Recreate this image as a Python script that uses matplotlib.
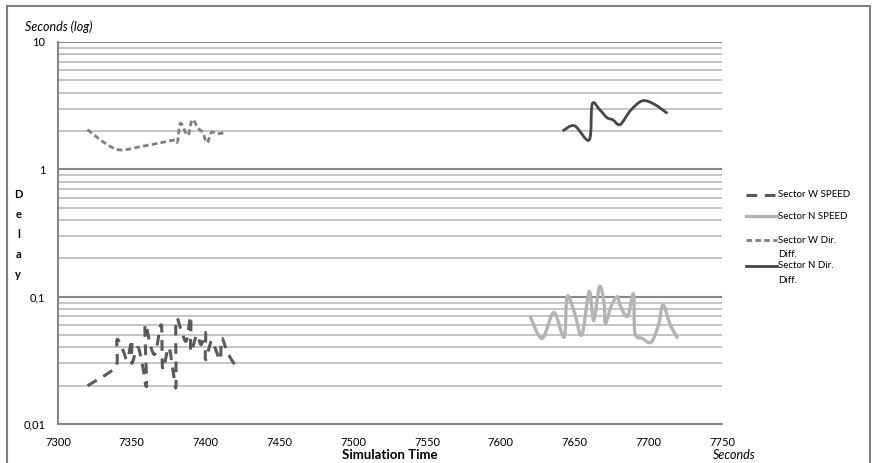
import matplotlib
matplotlib.use("Agg")
import numpy as np
import matplotlib.pyplot as plt
from matplotlib.patches import Rectangle, PathPatch
from matplotlib.path import Path
from matplotlib.lines import Line2D
from matplotlib.ticker import FixedLocator, NullFormatter

plt.rcParams['font.family'] = ['Lato', 'DejaVu Sans']

# data (time in seconds, delay in seconds)
w_speed_t = [7320, 7336, 7340, 7340, 7344, 7347, 7350, 7350, 7354, 7357, 7360, 7359,
             7363, 7366, 7370, 7371, 7375, 7378, 7380, 7380, 7384, 7387, 7390, 7390,
             7394, 7397, 7400, 7400, 7404, 7407, 7410, 7411, 7415, 7420]
w_speed_v = [0.020, 0.026, 0.030, 0.046, 0.038, 0.032, 0.046, 0.030, 0.040, 0.030, 0.020, 0.060,
             0.040, 0.036, 0.060, 0.027, 0.040, 0.026, 0.020, 0.065, 0.052, 0.045, 0.070, 0.037,
             0.050, 0.042, 0.052, 0.032, 0.045, 0.038, 0.032, 0.047, 0.036, 0.029]

n_speed_t = [7620, 7628, 7636, 7643, 7645, 7650, 7655, 7660, 7663, 7667, 7670, 7671,
             7675, 7679, 7681, 7686, 7690, 7691, 7696, 7702, 7707, 7710, 7715, 7720]
n_speed_v = [0.070, 0.047, 0.075, 0.048, 0.100, 0.075, 0.050, 0.110, 0.065, 0.120, 0.090, 0.062,
             0.085, 0.100, 0.085, 0.070, 0.105, 0.052, 0.047, 0.044, 0.060, 0.086, 0.060, 0.047]

w_dir_t = [7320, 7332, 7342, 7355, 7370, 7379, 7381, 7383, 7388, 7391, 7395, 7398, 7401, 7404, 7408, 7413]
w_dir_v = [2.05, 1.60, 1.42, 1.50, 1.62, 1.70, 1.65, 2.30, 1.85, 2.45, 2.10, 1.95, 1.62, 1.95, 1.90, 1.95]

n_dir_t = [7642, 7650, 7660, 7662, 7667, 7672, 7676, 7681, 7688, 7696, 7704, 7713]
n_dir_v = [2.00, 2.20, 1.70, 3.25, 2.95, 2.55, 2.45, 2.25, 2.90, 3.45, 3.25, 2.75]

x_ticks = [7300, 7350, 7400, 7450, 7500, 7550, 7600, 7650, 7700, 7750]
y_ticks = [0.01, 0.1, 1, 10]
y_tick_labels = ['0,01', '0,1', '1', '10']


def smooth_path(t, v):
    # spreadsheet-style smoothed line: bezier through the points (log y)
    x = np.asarray(t, float)
    y = np.log10(np.asarray(v, float))
    px = np.concatenate([[x[0]], x, [x[-1]]])
    py = np.concatenate([[y[0]], y, [y[-1]]])
    verts = [(x[0], v[0])]
    codes = [Path.MOVETO]
    for i in range(1, len(px) - 2):
        c1x = px[i] + (px[i + 1] - px[i - 1]) / 6
        c1y = py[i] + (py[i + 1] - py[i - 1]) / 6
        c2x = px[i + 1] - (px[i + 2] - px[i]) / 6
        c2y = py[i + 1] - (py[i + 2] - py[i]) / 6
        verts += [(c1x, 10 ** c1y), (c2x, 10 ** c2y), (px[i + 1], 10 ** py[i + 1])]
        codes += [Path.CURVE4] * 3
    return Path(verts, codes)


fig = plt.figure(figsize=(8.72, 4.63), dpi=100)
fig.patches.append(Rectangle((0.008, -0.1), 0.99, 1.088, transform=fig.transFigure,
                             fill=False, edgecolor='#808080', linewidth=1.5))

ax = fig.add_axes([0.0665, 0.0842, 0.7615, 0.8251])
ax.set_yscale('log')
ax.set_xlim(7300, 7750)
ax.set_ylim(0.01, 10)

# gridlines like the spreadsheet: major darker, minor lighter
minor = [m * 10.0 ** e for e in (-2, -1, 0) for m in range(2, 10)]
for v in minor:
    ax.axhline(v, color='#c0c0c0', linewidth=1.3, zorder=0)
for v in [0.1, 1, 10]:
    ax.axhline(v, color='#888888', linewidth=1.5, zorder=0)

series = [
    (w_speed_t, w_speed_v, '#5a5a5a', 2.2, (0, (3.5, 2.5)), 'Sector W SPEED'),
    (n_speed_t, n_speed_v, '#b4b4b4', 2.4, 'solid', 'Sector N SPEED'),
    (w_dir_t, w_dir_v, '#7f7f7f', 2.0, (0, (2, 1.2)), 'Sector W Dir.'),
    (n_dir_t, n_dir_v, '#474747', 2.0, 'solid', 'Sector N Dir.'),
]
for t, v, c, lw, ls, lab in series:
    ax.add_patch(PathPatch(smooth_path(t, v), fill=False, edgecolor=c, linewidth=lw,
                           linestyle=ls, capstyle='butt', joinstyle='round'))

for s in ['top', 'right']:
    ax.spines[s].set_visible(False)
ax.spines['left'].set_color('#888888')
ax.spines['left'].set_linewidth(1.5)
ax.spines['bottom'].set_color('#888888')
ax.spines['bottom'].set_linewidth(1.5)

ax.xaxis.set_major_locator(FixedLocator(x_ticks))
ax.set_xticklabels([str(t) for t in x_ticks])
ax.yaxis.set_major_locator(FixedLocator(y_ticks))
ax.set_yticklabels(y_tick_labels)
ax.yaxis.set_minor_formatter(NullFormatter())
ax.tick_params(which='both', length=0, labelsize=8, colors='black')
ax.tick_params(axis='x', pad=9)
ax.tick_params(axis='y', pad=9)

fig.text(0.029, 0.942, 'Seconds (log)', fontsize=9, style='italic', va='center')
fig.text(0.447, 0.017, 'Simulation Time', fontsize=9.5, fontweight='bold', ha='center', va='center')
fig.text(0.818, 0.017, 'Seconds', fontsize=9, style='italic', ha='left', va='center')
for i, ch in enumerate('Delay'):
    fig.text(0.021, 1 - (195 + 20 * i) / 463, ch, fontsize=8, fontweight='bold',
             ha='center', va='center')

# legend, drawn like the spreadsheet one (handle next to the first text line)
leg_y = [195, 216, 240, 266]
for (t, v, c, lw, ls, lab), yy in zip(series, leg_y):
    yf = 1 - yy / 463
    fig.add_artist(Line2D([746 / 872, 777 / 872], [yf, yf], color=c, linewidth=lw,
                          linestyle=ls, transform=fig.transFigure))
    fig.text(778 / 872, yf, lab, fontsize=7, va='center', ha='left')
    if 'Dir' in lab:
        fig.text(778 / 872, yf - 14.5 / 463, 'Diff.', fontsize=7, va='center', ha='left')

fig.savefig('out.png', dpi=100)
